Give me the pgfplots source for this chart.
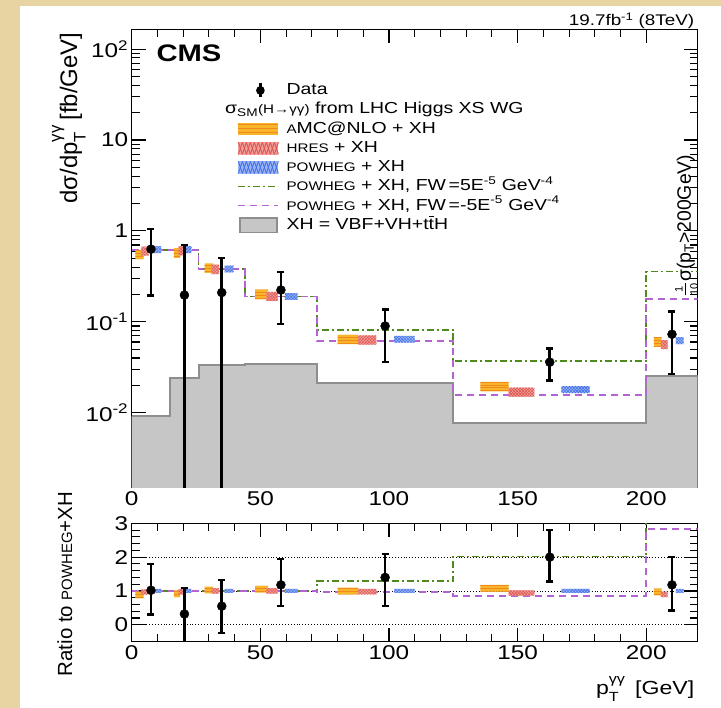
\documentclass[border=0pt]{standalone}
\usepackage{pgfplots}
\pgfplotsset{compat=1.18}
\usepackage{fontspec}
\setmainfont{Liberation Sans}[FakeStretch=1.22]
\newfontfamily\vfont{Liberation Sans}
\usetikzlibrary{patterns}
\definecolor{bgbeige}{HTML}{E8D4A2}
\definecolor{amcorange}{HTML}{F7B52A}
\definecolor{amcstripe}{HTML}{F08A1C}
\definecolor{hresred}{HTML}{E2544E}
\definecolor{powblue}{HTML}{3D6EE8}
\definecolor{fwgreen}{HTML}{4F8A1A}
\definecolor{fwpurple}{HTML}{B463D2}
\definecolor{xhgray}{HTML}{C6C6C6}
\definecolor{xhedge}{HTML}{8E8E8E}
\newcommand{\fs}[1]{{\fontsize{12.5}{12.5}\selectfont #1}}
\newcommand{\tbar}{\hbox{t\llap{\raisebox{0.78em}{\rule{0.3em}{0.07em}}}}}
\newcommand{\TGG}{\rlap{\raisebox{0.3em}{\textsuperscript{γγ}}}\raisebox{-0.2em}{\textsubscript{T}}}
\pgfplotsset{
  cmsaxis/.style={
    scale only axis, width=566bp, xmin=0, xmax=220,
    axis line style={line width=1.3bp},
    every tick/.style={black, line width=1.1bp},
    major tick length=14bp, minor tick length=8bp,
    tick align=inside, xtick pos=both, ytick pos=both,
    xtick={0,50,100,150,200}, minor x tick num=4,
    tick label style={font=\fontsize{20}{20}\selectfont},
    /pgf/number format/assume math mode=true,
    clip=true,
  },
  amcband/.style={draw=none, fill=amcorange, postaction={pattern=horizontal lines, pattern color=amcstripe}, unbounded coords=jump, forget plot},
  hresband/.style={draw=none, fill=hresred!55, postaction={pattern=crosshatch, pattern color=hresred}, unbounded coords=jump, forget plot},
  powband/.style={draw=none, fill=powblue!50, postaction={pattern=crosshatch, pattern color=powblue}, unbounded coords=jump, forget plot},
  fwplus/.style={const plot, fwgreen, line width=1.8bp, dash pattern=on 7bp off 3bp on 2bp off 3bp, mark=none, forget plot},
  fwminus/.style={const plot, fwpurple, line width=1.8bp, dash pattern=on 7bp off 5bp, mark=none, forget plot},
  datapts/.style={only marks, mark=*, mark size=4.5bp, black, forget plot,
    error bars/y dir=both, error bars/y explicit,
    error bars/error bar style={line width=2.6bp, black},
    error bars/error mark options={rotate=90, black, line width=2.4bp, mark size=3.5bp}},
}
\begin{document}
\begin{tikzpicture}[x=1bp,y=1bp]
\fill[bgbeige] (0,0) rectangle (721,708);
\fill[white] (20,0) rectangle (721,702);

% ---------------- top panel ----------------
\begin{axis}[cmsaxis, at={(131.7bp,220.3bp)}, anchor=south west, height=458.4bp,
  ymode=log, ymin=1.5e-3, ymax=165,
  ytick={0.01,0.1,1,10,100},
  yticklabels={10\textsuperscript{-2},10\textsuperscript{-1},1,10,10\textsuperscript{2}},
  minor ytick={0.002,0.003,0.004,0.005,0.006,0.007,0.008,0.009,0.02,0.03,0.04,0.05,0.06,0.07,0.08,0.09,0.2,0.3,0.4,0.5,0.6,0.7,0.8,0.9,2,3,4,5,6,7,8,9,20,30,40,50,60,70,80,90},
  legend cell align=left,
  legend style={at={(0.1754,0.8853)}, anchor=north west, draw=none, fill=none,
    font=\fontsize{16}{16}\selectfont, row sep=4.1bp, column sep=1bp, inner sep=0pt,
    nodes={inner sep=0pt, text height=12bp, text depth=3bp}},
]
% XH = VBF+VH+ttH
\addplot[fill=xhgray, draw=none, forget plot] coordinates
  {(0,1e-4) (0,0.0092) (15,0.0092) (15,0.0239) (26,0.0239) (26,0.0337) (44,0.0337) (44,0.0342) (72,0.0342) (72,0.0214) (125,0.0214) (125,0.0078) (200,0.0078) (200,0.0256) (220,0.0256) (220,1e-4)};
\addplot[const plot, draw=xhedge, line width=2bp, forget plot] coordinates
  {(0,0.0092) (15,0.0239) (26,0.0337) (44,0.0342) (72,0.0214) (125,0.0078) (200,0.0256) (220,0.0256)};
% FW lines
\addplot[fwplus] coordinates
  {(0,0.62) (15,0.62) (26,0.38) (44,0.19) (72,0.082) (125,0.037) (200,0.357) (220,0.357)};
\addplot[fwminus] coordinates
  {(0,0.62) (15,0.62) (26,0.38) (44,0.19) (72,0.062) (125,0.0157) (200,0.18) (220,0.18)};
% aMC@NLO
\addplot[amcband] coordinates {
 (1.4,0.49) (4.6,0.49) (4.6,0.62) (1.4,0.62) (nan,nan)
 (16.4,0.505) (18.8,0.505) (18.8,0.645) (16.4,0.645) (nan,nan)
 (28.3,0.345) (31.7,0.345) (31.7,0.44) (28.3,0.44) (nan,nan)
 (48.0,0.177) (53.0,0.177) (53.0,0.226) (48.0,0.226) (nan,nan)
 (80.0,0.057) (88.0,0.057) (88.0,0.072) (80.0,0.072) (nan,nan)
 (135.5,0.0172) (146.5,0.0172) (146.5,0.0219) (135.5,0.0219) (nan,nan)
 (203.0,0.053) (206.0,0.053) (206.0,0.068) (203.0,0.068)};
% HRES
\addplot[hresband] coordinates {
 (3.8,0.535) (6.6,0.535) (6.6,0.67) (3.8,0.67) (nan,nan)
 (18.2,0.54) (20.2,0.54) (20.2,0.68) (18.2,0.68) (nan,nan)
 (31.0,0.335) (34.0,0.335) (34.0,0.425) (31.0,0.425) (nan,nan)
 (52.3,0.17) (56.7,0.17) (56.7,0.213) (52.3,0.213) (nan,nan)
 (87.9,0.056) (95.1,0.056) (95.1,0.071) (87.9,0.071) (nan,nan)
 (146.5,0.0151) (156.5,0.0151) (156.5,0.0189) (146.5,0.0189) (nan,nan)
 (205.7,0.050) (208.3,0.050) (208.3,0.063) (205.7,0.063)};
% POWHEG
\addplot[powband] coordinates {
 (8.2,0.57) (11.4,0.57) (11.4,0.68) (8.2,0.68) (nan,nan)
 (20.8,0.57) (23.2,0.57) (23.2,0.68) (20.8,0.68) (nan,nan)
 (36.1,0.35) (39.5,0.35) (39.5,0.415) (36.1,0.415) (nan,nan)
 (59.5,0.174) (64.5,0.174) (64.5,0.207) (59.5,0.207) (nan,nan)
 (102.0,0.059) (110.0,0.059) (110.0,0.07) (102.0,0.07) (nan,nan)
 (167.0,0.0165) (178.0,0.0165) (178.0,0.0196) (167.0,0.0196) (nan,nan)
 (211.5,0.057) (214.5,0.057) (214.5,0.068) (211.5,0.068)};
% Data
\addplot[datapts] coordinates {
 (7.5,0.63) += (0,0.42) -= (0,0.436)
 (20.5,0.197) += (0,0.50) -= (0,0.1969)
 (35,0.21) += (0,0.29) -= (0,0.2099)
 (58,0.224) += (0,0.132) -= (0,0.130)
 (98.5,0.09) += (0,0.047) -= (0,0.054)
 (162.5,0.036) += (0,0.015) -= (0,0.0134)
 (210,0.073) += (0,0.057) -= (0,0.0463)};
% legend
\addlegendimage{legend image code/.code={
  \draw[black, line width=2.4bp] (22bp,-7bp) -- (22bp,7bp);
  \draw[black, line width=8.6bp, line cap=round] (22bp,0bp) -- (22.05bp,0bp);}}
\addlegendentry{Data}
\addlegendimage{empty legend}
\addlegendentry{}
\addlegendimage{legend image code/.code={
  \draw[amcorange, line width=12.6bp] (0bp,0bp) -- (40bp,0bp);
  \draw[amcstripe, line width=0.8bp] (0bp,-3bp) -- (40bp,-3bp);
  \draw[amcstripe, line width=0.8bp] (0bp,1bp) -- (40bp,1bp);
  \draw[amcstripe, line width=0.8bp] (0bp,4.5bp) -- (40bp,4.5bp);}}
\addlegendentry{\fs{A}MC@NLO + XH}
\addlegendimage{legend image code/.code={
  \draw[hresred!55, line width=12.6bp] (0bp,0bp) -- (40bp,0bp);
  \foreach \i in {0,4,...,36} {
    \draw[hresred, line width=0.9bp] ({\i*1bp},-6bp) -- ({\i*1bp+4bp},6bp);
    \draw[hresred, line width=0.9bp] ({\i*1bp},6bp) -- ({\i*1bp+4bp},-6bp);}}}
\addlegendentry{\fs{HRES} + XH}
\addlegendimage{legend image code/.code={
  \draw[powblue!50, line width=12.6bp] (0bp,0bp) -- (40bp,0bp);
  \foreach \i in {0,4,...,36} {
    \draw[powblue, line width=0.9bp] ({\i*1bp},-6bp) -- ({\i*1bp+4bp},6bp);
    \draw[powblue, line width=0.9bp] ({\i*1bp},6bp) -- ({\i*1bp+4bp},-6bp);}}}
\addlegendentry{\fs{POWHEG} + XH}
\addlegendimage{legend image code/.code={
  \draw[fwgreen, line width=1.8bp, dash pattern=on 7bp off 3bp on 2bp off 3bp] (0bp,0bp) -- (40bp,0bp);}}
\addlegendentry{\fs{POWHEG} + XH, FW\,=5E\textsuperscript{-5} GeV\textsuperscript{-4}}
\addlegendimage{legend image code/.code={
  \draw[fwpurple, line width=1.8bp, dash pattern=on 7bp off 5bp] (0bp,0bp) -- (40bp,0bp);}}
\addlegendentry{\fs{POWHEG} + XH, FW\,=-5E\textsuperscript{-5} GeV\textsuperscript{-4}}
\addlegendimage{legend image code/.code={
  \draw[xhedge, line width=16bp] (0.8bp,0bp) -- (39.2bp,0bp);
  \draw[xhgray, line width=13bp] (2.3bp,0bp) -- (37.7bp,0bp);}}
\addlegendentry{XH = VBF+VH+t\tbar H}
\node[anchor=base west, font=\fontsize{24}{24}\selectfont\bfseries] at (rel axis cs:0.0376,0.9293) {CMS};
\node[rotate=90, anchor=base west, font=\vfont\fontsize{19.5}{19.5}\selectfont] at (axis cs:217.3,0.174)
  {$\frac{\mbox{\vfont\fontsize{11}{11}\selectfont 1}}{\mbox{\vfont\fontsize{11}{11}\selectfont 10}}$σ(p\textsubscript{T}>200GeV)};
\end{axis}

% ---------------- ratio panel ----------------
\begin{axis}[cmsaxis, at={(131.7bp,66.3bp)}, anchor=south west, height=118.4bp,
  ymin=-0.5, ymax=3, ytick={0,1,2,3}, minor y tick num=4]
\addplot[black, dotted, line width=0.9bp, forget plot] coordinates {(0,0) (220,0)};
\addplot[black, dotted, line width=0.9bp, forget plot] coordinates {(0,1) (220,1)};
\addplot[black, dotted, line width=0.9bp, forget plot] coordinates {(0,2) (220,2)};
\addplot[fwplus] coordinates {(0,1.0) (72,1.29) (125,2.02) (200,5.7) (220,5.7)};
\addplot[fwminus] coordinates {(0,1.0) (72,0.97) (125,0.86) (200,2.84) (220,2.84)};
\addplot[amcband] coordinates {
 (1.4,0.78) (4.6,0.78) (4.6,0.98) (1.4,0.98) (nan,nan)
 (16.4,0.82) (18.8,0.82) (18.8,1.02) (16.4,1.02) (nan,nan)
 (28.3,0.93) (31.7,0.93) (31.7,1.13) (28.3,1.13) (nan,nan)
 (48.0,0.95) (53.0,0.95) (53.0,1.15) (48.0,1.15) (nan,nan)
 (80.0,0.90) (88.0,0.90) (88.0,1.10) (80.0,1.10) (nan,nan)
 (135.5,0.98) (146.5,0.98) (146.5,1.18) (135.5,1.18) (nan,nan)
 (203.0,0.87) (206.0,0.87) (206.0,1.07) (203.0,1.07)};
\addplot[hresband] coordinates {
 (3.8,0.89) (6.6,0.89) (6.6,1.05) (3.8,1.05) (nan,nan)
 (18.2,0.90) (20.2,0.90) (20.2,1.06) (18.2,1.06) (nan,nan)
 (31.0,0.92) (34.0,0.92) (34.0,1.08) (31.0,1.08) (nan,nan)
 (52.3,0.92) (56.7,0.92) (56.7,1.08) (52.3,1.08) (nan,nan)
 (87.9,0.90) (95.1,0.90) (95.1,1.06) (87.9,1.06) (nan,nan)
 (146.5,0.86) (156.5,0.86) (156.5,1.02) (146.5,1.02) (nan,nan)
 (205.7,0.82) (208.3,0.82) (208.3,0.98) (205.7,0.98)};
\addplot[powband] coordinates {
 (8.2,0.94) (11.4,0.94) (11.4,1.06) (8.2,1.06) (nan,nan)
 (20.8,0.94) (23.2,0.94) (23.2,1.06) (20.8,1.06) (nan,nan)
 (36.1,0.94) (39.5,0.94) (39.5,1.06) (36.1,1.06) (nan,nan)
 (59.5,0.94) (64.5,0.94) (64.5,1.06) (59.5,1.06) (nan,nan)
 (102.0,0.94) (110.0,0.94) (110.0,1.06) (102.0,1.06) (nan,nan)
 (167.0,0.94) (178.0,0.94) (178.0,1.06) (167.0,1.06) (nan,nan)
 (211.5,0.94) (214.5,0.94) (214.5,1.06) (211.5,1.06)};
\addplot[datapts] coordinates {
 (7.5,1.02) += (0,0.78) -= (0,0.72)
 (20.5,0.32) += (0,0.76) -= (0,1.2)
 (35,0.55) += (0,0.78) -= (0,0.8)
 (58,1.18) += (0,0.77) -= (0,0.63)
 (98.5,1.40) += (0,0.70) -= (0,0.85)
 (162.5,2.0) += (0,0.8) -= (0,0.72)
 (210,1.18) += (0,0.82) -= (0,0.76)};
\end{axis}

% titles
\node[anchor=base west, inner sep=0pt, font=\fontsize{16}{16}\selectfont] at (225,594.3)
   {σ\textsubscript{SM}\fs{(H→γγ)} from LHC Higgs XS WG};
\node[anchor=base east, font=\fontsize{15.5}{15.5}\selectfont] at (697.7,682) {19.7fb\textsuperscript{-1} (8TeV)};
\node[rotate=90, anchor=base east, font=\vfont\fontsize{24}{24}\selectfont] at (77,678.7)
  {dσ/dp\TGG\hspace{0.45em}[fb/GeV]};
\node[rotate=90, anchor=base, font=\vfont\fontsize{20.5}{20.5}\selectfont] at (72,124)
  {Ratio to {\fontsize{15}{15}\selectfont POWHEG}+XH};
\node[anchor=base east, font=\fontsize{19}{19}\selectfont] at (697.7,13)
  {p\TGG\hspace{0.5em} [GeV]};
\pgfresetboundingbox
\useasboundingbox (0,0) rectangle (721,708);
\end{tikzpicture}
\end{document}
